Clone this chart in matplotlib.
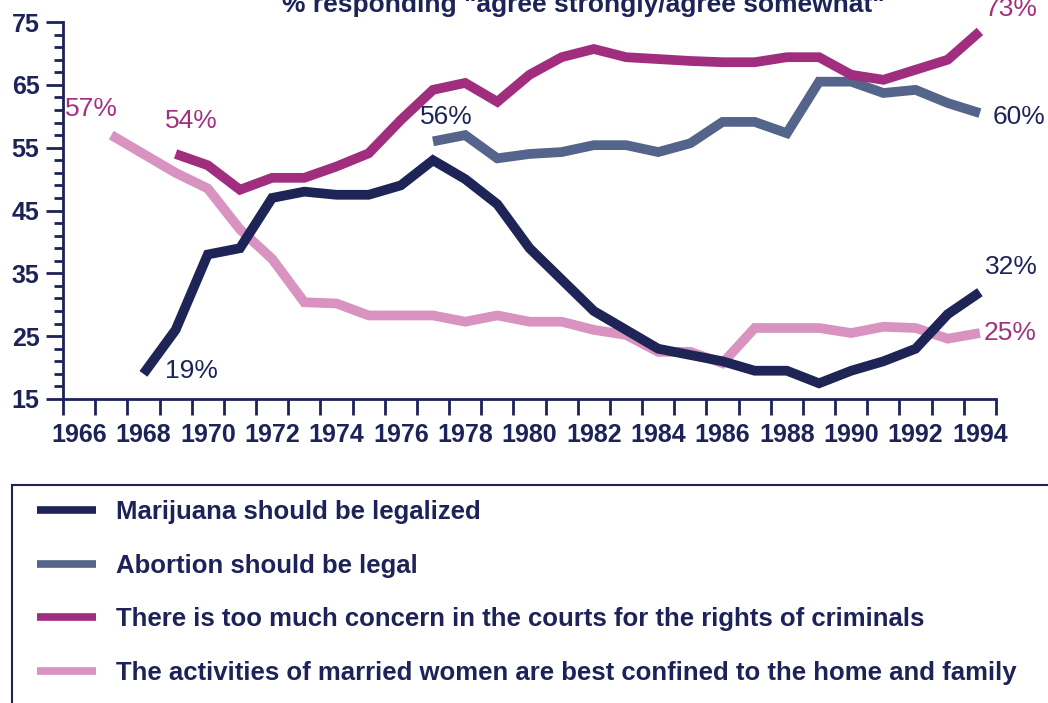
import numpy as np
import matplotlib.pyplot as plt
from matplotlib.patches import Rectangle

plt.rcParams['font.family'] = ['Liberation Sans', 'DejaVu Sans']

navy = '#1d2358'

# survey results, % agreeing
mj_years = list(range(1968, 1995))
marijuana = [19, 26, 38, 39, 47, 48, 47.5, 47.5, 49, 53, 50, 46, 39, 34, 29, 26,
             23, 22, 21, 19.5, 19.5, 17.5, 19.5, 21, 23, 28.5, 32]

ab_years = list(range(1977, 1995))
abortion = [56, 57, 53.3, 54, 54.3, 55.4, 55.4, 54.3, 55.7, 59.1, 59.1, 57.3,
            65.5, 65.5, 63.7, 64.2, 62.1, 60.5]

cr_years = list(range(1969, 1995))
criminals = [54, 52.2, 48.3, 50.2, 50.2, 52, 54.1, 59.4, 64.2, 65.3, 62.3, 66.6,
             69.4, 70.7, 69.4, 69.1, 68.8, 68.6, 68.6, 69.4, 69.4, 66.6, 65.8,
             67.4, 69, 73.5]

wo_years = list(range(1967, 1995))
women = [57, 54, 51, 48.5, 42, 37.3, 30.4, 30.2, 28.3, 28.3, 28.3, 27.3, 28.3,
         27.3, 27.3, 26, 25.2, 22.5, 22.5, 20.7, 26.3, 26.3, 26.3, 25.5, 26.5,
         26.3, 24.6, 25.5]

labels = ['Marijuana should be legalized',
          'Abortion should be legal',
          'There is too much concern in the courts for the rights of criminals',
          'The activities of married women are best confined to the home and family']

fig = plt.figure(figsize=(10.48, 7.03), dpi=100)
ax = fig.add_axes([63 / 1048, 1 - 399 / 703, 933 / 1048, 377 / 703])

kw = dict(lw=7, solid_capstyle='butt', solid_joinstyle='miter')
l1, = ax.plot(mj_years, marijuana, color='#1e2456', zorder=4, **kw)
l2, = ax.plot(ab_years, abortion, color='#55648a', zorder=3, **kw)
l3, = ax.plot(cr_years, criminals, color='#a12d7e', zorder=3, **kw)
l4, = ax.plot(wo_years, women, color='#d893c0', zorder=3, **kw)

ax.set_xlim(1965.5, 1994.5)
ax.set_ylim(15, 75)
for s in ['top', 'right']:
    ax.spines[s].set_visible(False)
for s in ['left', 'bottom']:
    ax.spines[s].set_color(navy)
    ax.spines[s].set_linewidth(2)

ax.set_xticks(range(1966, 1995, 2))
ax.set_xticks(np.arange(1965.5, 1995, 1), minor=True)
ax.set_yticks(range(15, 76, 10))
ax.set_yticks(range(15, 76, 2), minor=True)
ax.tick_params(axis='x', which='major', length=0, pad=17, labelsize=18, labelcolor=navy)
ax.tick_params(axis='x', which='minor', length=11.5, width=2, color=navy)
ax.tick_params(axis='y', which='major', length=12, width=2, color=navy, pad=5,
               labelsize=18, labelcolor=navy)
ax.tick_params(axis='y', which='minor', length=6.5, width=2, color=navy)
for t in ax.get_xticklabels() + ax.get_yticklabels():
    t.set_fontweight('bold')

magenta = '#a3307f'
tk = dict(fontsize=19, va='center', ha='left', clip_on=False)
ax.text(1965.56, 61.2, '57%', color=magenta, **tk)
ax.text(1968.67, 59.2, '54%', color=magenta, **tk)
ax.text(1976.6, 59.9, '56%', color=navy, **tk)
ax.text(1968.67, 19.45, '19%', color=navy, **tk)
ax.text(1994.16, 77.1, '73%', color=magenta, **tk)
ax.text(1994.4, 59.9, '60%', color=navy, **tk)
ax.text(1994.16, 36, '32%', color=navy, **tk)
ax.text(1994.1, 25.5, '25%', color=magenta, **tk)

fig.text(0.557, 1 - 12 / 703, '% responding "agree strongly/agree somewhat"',
         ha='center', va='baseline', fontsize=19, fontweight='bold', color=navy)

# legend box, open to the right and bottom
fig.add_artist(Rectangle((12 / 1048, -0.1), 1.2, 0.1 + 1 - 485 / 703,
                         transform=fig.transFigure, fill=False,
                         edgecolor=navy, lw=1.5))

leg = fig.legend([l1, l2, l3, l4], labels, loc='upper left',
                 bbox_to_anchor=(27 / 1048, 1 - 490 / 703), frameon=False,
                 fontsize=18.5, handlelength=2.3, handletextpad=0.78,
                 labelspacing=1.15, borderaxespad=0)
for t in leg.get_texts():
    t.set_color(navy)
    t.set_fontweight('bold')
for h in leg.legend_handles:
    h.set_linewidth(5.5)

fig.savefig('out.png', dpi=100)
